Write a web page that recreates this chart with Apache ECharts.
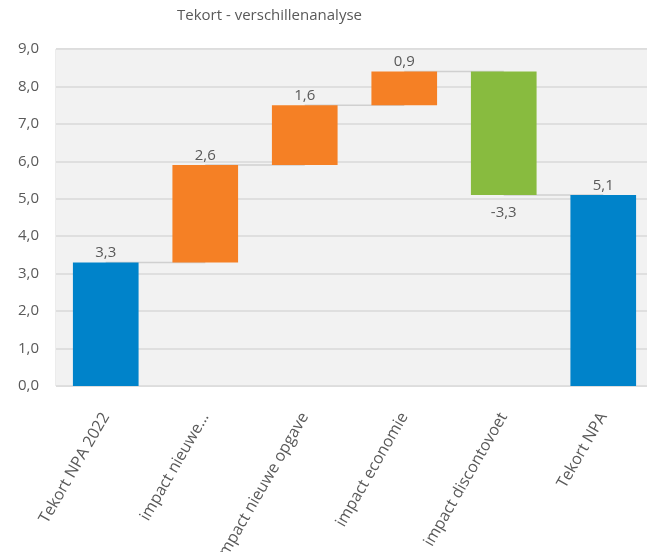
<!DOCTYPE html>
<html>
<head>
<meta charset="utf-8">
<script src="https://cdn.jsdelivr.net/npm/echarts@6/dist/echarts.min.js"></script>
<style>
  html, body { margin: 0; padding: 0; background: #fff; }
  #chart { width: 647px; height: 552px; }
</style>
</head>
<body>
<div id="chart"></div>
<script>
var categories = ['Tekort NPA 2022', 'impact nieuwe...', 'impact nieuwe opgave', 'impact economie', 'impact discontovoet', 'Tekort NPA'];
var values = [3.3, 2.6, 1.6, 0.9, -3.3, 5.1];
var kinds = ['total', 'up', 'up', 'up', 'down', 'total'];
var yTicks = [0, 1, 2, 3, 4, 5, 6, 7, 8, 9];

var colors = { total: '#0083ca', up: '#f58025', down: '#88bb3f' };
var fontName = '"Open Sans", "Noto Sans", sans-serif';

// running totals -> invisible base + visible part
var base = [], shown = [], levels = [];
var running = 0;
values.forEach(function (v, i) {
    if (kinds[i] === 'total') {
        base.push(0);
        shown.push(v);
        running = v;
    } else if (v >= 0) {
        base.push(running);
        shown.push(v);
        running += v;
    } else {
        base.push(running + v);
        shown.push(-v);
        running += v;
    }
    levels.push(running);
});

var connectors = [];
for (var i = 0; i < levels.length - 1; i++) connectors.push([i, levels[i]]);

var fmt = function (v) { return v.toFixed(1).replace('.', ','); };

var chart = echarts.init(document.getElementById('chart'));

chart.setOption({
    animation: false,
    backgroundColor: '#fff',
    title: {
        text: 'Tekort - verschillenanalyse',
        left: 172,
        top: 3,
        textStyle: { color: '#595959', fontSize: 15, fontWeight: 'normal', fontFamily: fontName }
    },
    grid: {
        left: 56, width: 597, top: 49, bottom: 166,
        outerBoundsMode: 'none',
        show: true, backgroundColor: '#f2f2f2', borderColor: '#d9d9d9', borderWidth: 1
    },
    xAxis: {
        type: 'category',
        data: categories,
        axisLine: { show: false },
        axisTick: { show: false },
        axisLabel: {
            interval: 0, rotate: 60, margin: 28,
            color: '#595959', fontSize: 16, fontFamily: fontName
        }
    },
    yAxis: {
        type: 'value',
        min: yTicks[0], max: yTicks[yTicks.length - 1], interval: 1,
        axisLine: { show: false },
        axisTick: { show: false },
        axisLabel: {
            color: '#595959', fontSize: 15, fontFamily: fontName, margin: 17,
            formatter: function (v) { return fmt(v); }
        },
        splitArea: { show: true, areaStyle: { color: ['#f2f2f2'] } },
        splitLine: { lineStyle: { color: '#d9d9d9', width: 1.5 } }
    },
    series: [
        {
            type: 'custom',
            z: 1,
            data: connectors,
            renderItem: function (params, api) {
                var p1 = api.coord([api.value(0), api.value(1)]);
                var p2 = api.coord([api.value(0) + 1, api.value(1)]);
                return {
                    type: 'line',
                    shape: { x1: p1[0], y1: p1[1], x2: p2[0], y2: p2[1] },
                    style: { stroke: '#d0d0d0', lineWidth: 1.5 }
                };
            }
        },
        {
            type: 'bar',
            stack: 'wf',
            z: 2,
            barCategoryGap: '34%',
            itemStyle: { color: 'transparent' },
            data: base
        },
        {
            type: 'bar',
            stack: 'wf',
            z: 2,
            data: shown.map(function (v, i) {
                return {
                    value: v,
                    itemStyle: { color: colors[kinds[i]] },
                    label: {
                        show: true,
                        position: values[i] < 0 ? 'bottom' : 'top',
                        distance: values[i] < 0 ? 10 : 2,
                        color: '#595959', fontSize: 15, fontFamily: fontName,
                        formatter: fmt(values[i])
                    }
                };
            })
        }
    ]
});
</script>
</body>
</html>
